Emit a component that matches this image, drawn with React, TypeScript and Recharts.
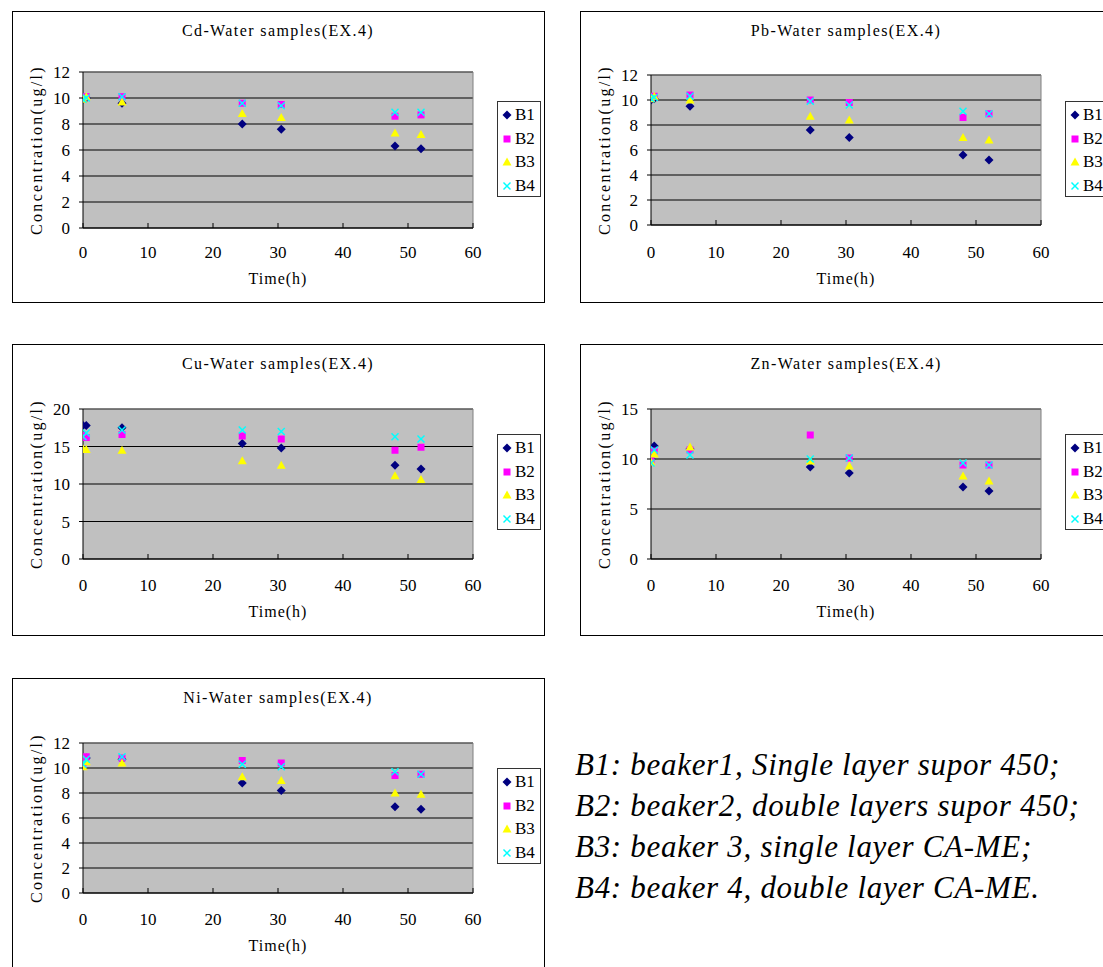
import React from "react";
import { ScatterChart, Scatter, XAxis, YAxis, CartesianGrid, ReferenceLine } from "recharts";

// sampling times (h), shared by every panel
const times = [0, 0.5, 6, 24.5, 30.5, 48, 52];
const xTicks = [0, 10, 20, 30, 40, 50, 60];
const seriesNames = ["B1", "B2", "B3", "B4"];

const cdB1 = [9.9, 10.0, 9.6, 8.0, 7.6, 6.3, 6.1];
const cdB2 = [10.0, 10.1, 10.1, 9.6, 9.5, 8.6, 8.7];
const cdB3 = [9.9, 10.1, 9.7, 8.8, 8.5, 7.3, 7.2];
const cdB4 = [9.9, 10.0, 10.1, 9.6, 9.4, 8.9, 8.9];

const pbB1 = [10.0, 10.1, 9.5, 7.6, 7.0, 5.6, 5.2];
const pbB2 = [10.2, 10.3, 10.4, 10.0, 9.8, 8.6, 8.9];
const pbB3 = [10.1, 10.3, 10.0, 8.7, 8.4, 7.0, 6.8];
const pbB4 = [10.1, 10.2, 10.3, 9.9, 9.6, 9.1, 8.9];

const cuB1 = [17.8, 17.8, 17.5, 15.4, 14.8, 12.5, 12.0];
const cuB2 = [16.5, 16.2, 16.6, 16.4, 16.0, 14.5, 14.9];
const cuB3 = [14.7, 14.6, 14.5, 13.1, 12.5, 11.1, 10.6];
const cuB4 = [16.3, 16.8, 17.2, 17.2, 17.0, 16.3, 16.0];

const znB1 = [10.0, 11.3, 11.0, 9.2, 8.6, 7.2, 6.8];
const znB2 = [9.9, 10.8, 10.9, 12.4, 10.1, 9.4, 9.4];
const znB3 = [9.7, 10.5, 11.2, 9.8, 9.3, 8.3, 7.8];
const znB4 = [9.6, 10.9, 10.4, 10.0, 10.1, 9.6, 9.4];

const niB1 = [10.5, 10.8, 10.7, 8.8, 8.2, 6.9, 6.7];
const niB2 = [10.4, 10.9, 10.8, 10.6, 10.4, 9.4, 9.5];
const niB3 = [10.1, 10.5, 10.4, 9.3, 9.0, 8.0, 7.9];
const niB4 = [10.3, 10.7, 10.9, 10.3, 10.1, 9.7, 9.5];

const ticks12 = [0, 2, 4, 6, 8, 10, 12];
const ticks20 = [0, 5, 10, 15, 20];
const ticks15 = [0, 5, 10, 15];

const notes = [
  "B1: beaker1, Single layer supor 450;",
  "B2: beaker2, double layers supor 450;",
  "B3: beaker 3, single layer CA-ME;",
  "B4: beaker 4, double layer CA-ME.",
];

const serif = "Liberation Serif, Tinos, Times New Roman, DejaVu Serif, serif";

function Diamond({ cx, cy }: any) {
  const r = 4.5;
  return <polygon points={`${cx},${cy - r} ${cx + r},${cy} ${cx},${cy + r} ${cx - r},${cy}`} fill="#000080" />;
}
function Square({ cx, cy }: any) {
  return <rect x={cx - 3.5} y={cy - 3.5} width={7} height={7} fill="#ff00ff" />;
}
function Triangle({ cx, cy }: any) {
  return <polygon points={`${cx},${cy - 4.5} ${cx + 4.5},${cy + 3.5} ${cx - 4.5},${cy + 3.5}`} fill="#ffff00" />;
}
function Cross({ cx, cy }: any) {
  const r = 3.5;
  return (
    <g stroke="#00ffff" strokeWidth={1.5}>
      <line x1={cx - r} y1={cy - r} x2={cx + r} y2={cy + r} />
      <line x1={cx - r} y1={cy + r} x2={cx + r} y2={cy - r} />
    </g>
  );
}
const shapes = [Diamond, Square, Triangle, Cross];

function LegendBox({ left, top }: { left: number; top: number }) {
  return (
    <div
      style={{
        position: "absolute",
        left,
        top,
        width: 44,
        height: 96,
        border: "1px solid #333",
        boxSizing: "border-box",
        background: "#fff",
        fontFamily: serif,
        fontSize: 17,
      }}
    >
      {seriesNames.map((name, i) => {
        const Shape = shapes[i];
        return (
          <div key={name} style={{ position: "absolute", left: 3, top: 2 + i * 23.5, height: 22, display: "flex", alignItems: "center" }}>
            <svg width={12} height={12}>
              <Shape cx={6} cy={6} />
            </svg>
            <span style={{ marginLeft: 2 }}>{name}</span>
          </div>
        );
      })}
    </div>
  );
}

interface PanelProps {
  left: number;
  top: number;
  title: string;
  yMax: number;
  yTicks: number[];
  series: number[][];
  plotTop: number;
  plotH: number;
}

function Panel({ left, top, title, yMax, yTicks, series, plotTop, plotH }: PanelProps) {
  const w = 531;
  const h = 290;
  const bottom = plotTop + plotH;
  const xAxisH = 272 - bottom;
  const tickFont = { fontSize: 17, fill: "#000", fontFamily: serif };
  return (
    <div
      style={{
        position: "absolute",
        left,
        top,
        width: w + 2,
        height: h + 2,
        border: "1px solid #000",
        boxSizing: "border-box",
        background: "#fff",
      }}
    >
      <div
        style={{
          position: "absolute",
          left: 70,
          width: 390,
          top: 9,
          lineHeight: "20px",
          textAlign: "center",
          fontFamily: serif,
          fontSize: 16,
          letterSpacing: 1.4,
          color: "#000",
        }}
      >
        {title}
      </div>
      <ScatterChart width={w} height={h} margin={{ top: plotTop, right: w - 460, bottom: 18, left: 10 }}>
        <CartesianGrid horizontal vertical={false} stroke="#000" fill="#c0c0c0" fillOpacity={1} />
        <XAxis
          type="number"
          dataKey="x"
          domain={[0, 60]}
          ticks={xTicks}
          interval={0}
          allowDataOverflow
          height={xAxisH}
          stroke="#000"
          tick={tickFont}
          tickSize={-5}
          tickMargin={232 - bottom + 7}
          label={{
            value: "Time(h)",
            position: "insideBottom",
            offset: 0,
            style: { fontSize: 16, fill: "#000", fontFamily: serif, letterSpacing: 1 },
          }}
        />
        <YAxis
          type="number"
          dataKey="y"
          domain={[0, yMax]}
          ticks={yTicks}
          interval={0}
          allowDataOverflow
          width={60}
          stroke="#000"
          tick={tickFont}
          tickSize={4}
          tickMargin={9}
          label={{
            value: "Concentration(ug/l)",
            angle: -90,
            position: "insideLeft",
            offset: 13,
            style: { textAnchor: "middle", fontSize: 16, fill: "#000", fontFamily: serif, letterSpacing: 2.3 },
          }}
        />
        <ReferenceLine y={yMax} stroke="#808080" />
        <ReferenceLine x={60} stroke="#808080" />
        {series.map((vals, i) => (
          <Scatter
            key={seriesNames[i]}
            name={seriesNames[i]}
            data={times.map((t, j) => ({ x: t, y: vals[j] }))}
            shape={shapes[i]}
            isAnimationActive={false}
          />
        ))}
      </ScatterChart>
      <LegendBox left={484} top={89} />
    </div>
  );
}

export default function App() {
  return (
    <div
      style={{
        position: "absolute",
        left: 0,
        top: 0,
        width: 1103,
        height: 967,
        overflow: "hidden",
        background: "#fff",
      }}
    >
      <Panel left={12} top={11} title="Cd-Water samples(EX.4)" yMax={12} yTicks={ticks12} series={[cdB1, cdB2, cdB3, cdB4]} plotTop={60} plotH={156} />
      <Panel left={580} top={11} title="Pb-Water samples(EX.4)" yMax={12} yTicks={ticks12} series={[pbB1, pbB2, pbB3, pbB4]} plotTop={63} plotH={150} />
      <Panel left={12} top={344} title="Cu-Water samples(EX.4)" yMax={20} yTicks={ticks20} series={[cuB1, cuB2, cuB3, cuB4]} plotTop={64} plotH={150} />
      <Panel left={580} top={344} title="Zn-Water samples(EX.4)" yMax={15} yTicks={ticks15} series={[znB1, znB2, znB3, znB4]} plotTop={64} plotH={150} />
      <Panel left={12} top={678} title="Ni-Water samples(EX.4)" yMax={12} yTicks={ticks12} series={[niB1, niB2, niB3, niB4]} plotTop={64} plotH={150} />
      <div
        style={{
          position: "absolute",
          left: 575,
          top: 744,
          fontFamily: serif,
          fontStyle: "italic",
          fontSize: 31,
          letterSpacing: 0.7,
          lineHeight: "41px",
          color: "#000",
          whiteSpace: "nowrap",
        }}
      >
        {notes.map((line) => (
          <div key={line}>{line}</div>
        ))}
      </div>
    </div>
  );
}
